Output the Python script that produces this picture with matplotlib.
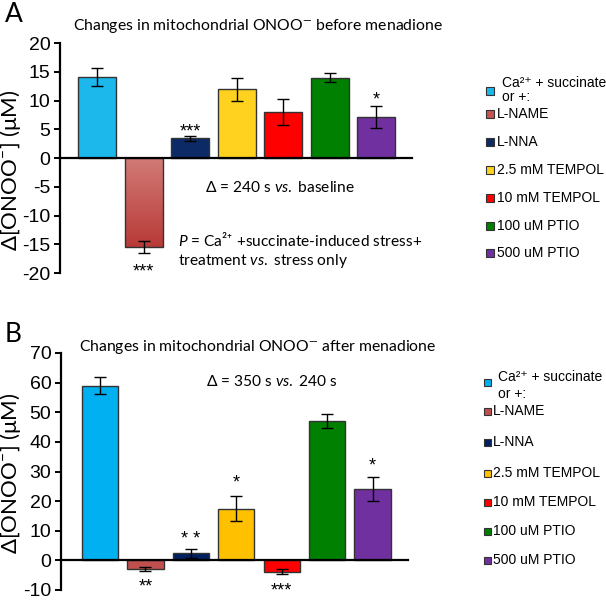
import numpy as np
import matplotlib.pyplot as plt
from matplotlib.colors import LinearSegmentedColormap
from matplotlib.patches import Rectangle

plt.rcParams["mathtext.default"] = "regular"
plt.rcParams["mathtext.fontset"] = "custom"
plt.rcParams["mathtext.it"] = "Lato:italic"
plt.rcParams["mathtext.rm"] = "Lato"
plt.rcParams["axes.unicode_minus"] = False

# Dados
grupos = ["Ca\u00b2\u207a + succinate", "L-NAME", "L-NNA", "2.5 mM TEMPOL",
          "10 mM TEMPOL", "100 uM PTIO", "500 uM PTIO"]

antes_media = [14.1, -15.5, 3.4, 12.0, 8.0, 14.0, 7.1]
antes_erro = [1.5, 1.1, 0.4, 2.0, 2.3, 0.7, 1.9]
antes_sig = ["", "***", "***", "", "", "", "*"]
antes_sig_y = [0, -18.9, 5.4, 0, 0, 0, 11.0]

depois_media = [59.0, -3.0, 2.4, 17.5, -3.8, 47.0, 24.2]
depois_erro = [3.0, 0.6, 1.6, 4.3, 0.8, 2.3, 4.1]
depois_sig = ["", "**", "* *", "*", "***", "", "*"]
depois_sig_y = [0, -7.2, 8.8, 28.0, -8.6, 0, 33.5]

cores_a = ["#1cb8ec", "#c55552", "#0c2a66", "#ffd21f", "#ff0000", "#008000", "#7030a0"]
cores_b = ["#00b0f0", "#c0504d", "#002060", "#ffc000", "#ff0000", "#008000", "#7030a0"]

fig = plt.figure(figsize=(6.06, 6.0), dpi=100)
axA = fig.add_axes([60 / 606, 1 - 273 / 600, 352 / 606, 230 / 600])
axB = fig.add_axes([61 / 606, 1 - 590 / 600, 347 / 606, 237 / 600])


def painel(ax, media, erro, sig, sig_y, cores, largura, xlim, ylim, yticks):
    x = np.arange(len(media))
    bars = ax.bar(x, media, width=largura, color=cores, edgecolor="#333333",
                  linewidth=1.0, zorder=2)
    ax.errorbar(x, media, yerr=erro, fmt="none", ecolor="black",
                elinewidth=1.0, capsize=4, capthick=1.0, zorder=3)
    for xi, s, sy in zip(x, sig, sig_y):
        if s:
            ax.annotate(s, (xi, sy), xytext=(0, -7), textcoords="offset points",
                        ha="center", va="baseline", fontsize=13,
                        family="Liberation Sans")
    ax.set_xlim(*xlim)
    ax.set_ylim(*ylim)
    ax.set_yticks(yticks)
    ax.set_xticks([])
    for s in ["top", "right"]:
        ax.spines[s].set_visible(False)
    ax.spines["bottom"].set_position(("data", 0))
    ax.spines["bottom"].set_linewidth(1.6)
    ax.spines["left"].set_linewidth(1.6)
    ax.tick_params(axis="y", direction="out", length=4, width=1.4, pad=3,
                   labelsize=14)
    for t in ax.get_yticklabels():
        t.set_family("Liberation Sans")
    return bars


barsA = painel(axA, antes_media, antes_erro, antes_sig, antes_sig_y, cores_a,
               0.82, (-0.8, 6.77), (-20, 20), range(-20, 21, 5))
barsB = painel(axB, depois_media, depois_erro, depois_sig, depois_sig_y, cores_b,
               0.80, (-0.86, 6.78), (-10, 70), range(-10, 71, 10))

# gradiente na barra L-NAME do painel A
b = barsA[1]
grad = LinearSegmentedColormap.from_list("g", ["#d27b77", "#b83a37"])
axA.imshow(np.linspace(0, 1, 100).reshape(-1, 1), cmap=grad, aspect="auto",
           extent=(b.get_x(), b.get_x() + b.get_width(), b.get_height(), 0),
           zorder=2.1)
b.set_facecolor("none")
b.set_zorder(2.2)
axA.set_xlim(-0.8, 6.77)
axA.set_ylim(-20, 20)

# textos
fam = ["Lato", "DejaVu Sans"]
fig.text(5 / 606, 1 - 15 / 600, "A", fontsize=19, family="Lato", va="center")
fig.text(5 / 606, 1 - 335 / 600, "B", fontsize=19, family="Lato", va="center")
fig.text(258 / 606, 1 - 26 / 600, "Changes in mitochondrial ONOO$^{\u2014}$ before menadione",
         ha="center", va="center", fontsize=11.3, family="Lato")
fig.text(258 / 606, 1 - 347 / 600, "Changes in mitochondrial ONOO$^{\u2014}$ after menadione",
         ha="center", va="center", fontsize=11.3, family="Lato")
fig.text(11 / 606, 1 - 170 / 600, "\u0394[ONOO$^{-}$] (\u03bcM)", rotation=90,
         ha="center", va="center", fontsize=16, family="Lato")
fig.text(11 / 606, 1 - 473 / 600, "\u0394[ONOO$^{-}$] (\u03bcM)", rotation=90,
         ha="center", va="center", fontsize=16, family="Lato")
fig.text(205 / 606, 1 - 188 / 600, "\u0394 = 240 s $\\mathit{vs.}$ baseline",
         va="center", fontsize=11.2, family=fam)
fig.text(178 / 606, 1 - 240 / 600, "$\\mathit{P}$ = Ca\u00b2\u207a +succinate-induced stress+",
         va="center", fontsize=11.2, family=fam)
fig.text(178 / 606, 1 - 261 / 600, "treatment $\\mathit{vs.}$ stress only",
         va="center", fontsize=11.2, family=fam)
fig.text(206 / 606, 1 - 382 / 600, "\u0394 = 350 s $\\mathit{vs.}$ 240 s",
         va="center", fontsize=11.2, family=fam)


# legendas desenhadas a mao
def legenda(cores, x_mark, x_txt, y_ca, y_ou, y_mark0, y_seguintes, tam):
    ys = [y_mark0] + y_seguintes
    fl = ["Liberation Sans", "DejaVu Sans"]
    for i, (nome, cor, y) in enumerate(zip(grupos, cores, ys)):
        fig.patches.append(Rectangle(((x_mark - tam / 2) / 606, 1 - (y + tam / 2) / 600),
                                     tam / 606, tam / 600, facecolor=cor,
                                     edgecolor="#333333", linewidth=0.8,
                                     transform=fig.transFigure, figure=fig))
        if i == 0:
            fig.text((x_txt + 5) / 606, 1 - y_ca / 600, nome, va="center",
                     fontsize=10, family=fl)
            fig.text((x_txt + 5) / 606, 1 - y_ou / 600, "or +:", va="center",
                     fontsize=10, family=fl)
        else:
            fig.text(x_txt / 606, 1 - y / 600, nome, va="center", fontsize=10,
                     family=fl)


legenda(cores_a, 490, 497, 83, 97, 91, [114, 142, 170, 198, 226, 253], 8)
legenda(cores_b, 487, 493, 377, 394, 382, [411, 442, 473, 502, 531, 560], 7)

fig.savefig("out.png", dpi=100)
